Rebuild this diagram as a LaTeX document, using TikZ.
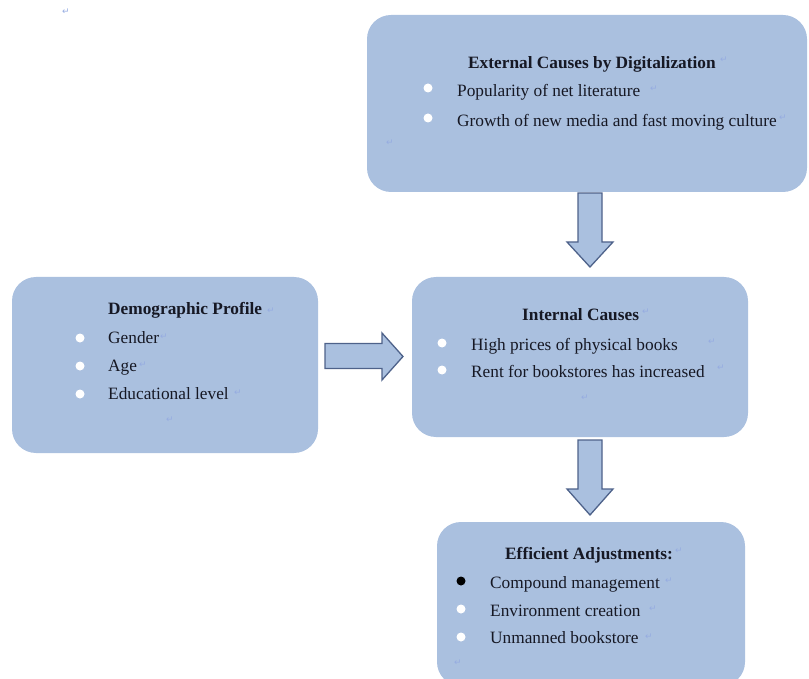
\documentclass[tikz,border=0pt]{standalone}
\usepackage{fontspec}
\setmainfont{Liberation Serif}
\newfontfamily\markfont{DejaVu Sans}
\definecolor{boxfill}{RGB}{170,192,223}
\definecolor{arrowline}{RGB}{78,98,138}
\definecolor{txt}{RGB}{22,24,36}
\definecolor{markblue}{RGB}{150,172,225}
\tikzset{
  panel/.style={fill=boxfill, draw=none, rounded corners=24pt},
  blockarrow/.style={fill=boxfill, draw=arrowline, line width=1.3pt, line join=miter},
  head/.style={anchor=base west, inner sep=0pt, font=\fontsize{17.3}{20}\selectfont\bfseries, text=txt},
  item/.style={anchor=base west, inner sep=0pt, font=\fontsize{17.3}{20}\selectfont, text=txt},
  dot/.style={circle, fill=white, inner sep=0pt, minimum size=9pt},
  pmark/.style={inner sep=0pt, font=\markfont\fontsize{9}{10}\selectfont, text=markblue}
}
\begin{document}
\begin{tikzpicture}[x=1pt,y=-1pt]
\useasboundingbox (0,0) rectangle (809,679);
% boxes
\node[panel, minimum width=440pt, minimum height=177pt] (ext) at (587,103.5) {};
\node[panel, minimum width=306pt, minimum height=176pt] (demo) at (165,365) {};
\node[panel, minimum width=336pt, minimum height=160pt] (int) at (580,357) {};
\node[panel, minimum width=308pt, minimum height=164pt] (eff) at (591,604) {};
% block arrows
\draw[blockarrow] (578,193) -- (602,193) -- (602,242) -- (613,242) -- (590,267) -- (567,242) -- (578,242) -- cycle;
\draw[blockarrow] (325,343.5) -- (382,343.5) -- (382,333) -- (403,356.5) -- (382,380) -- (382,368.5) -- (325,368.5) -- cycle;
\draw[blockarrow] (578,440) -- (602,440) -- (602,489) -- (613,489) -- (590,515) -- (567,489) -- (578,489) -- cycle;
% external
\node[head] (eh) at (468,69) {External Causes by Digitalization};
\node[dot] (eb1) at (428,88) {};
\node[item] (e1) at (457,97) {Popularity of net literature};
\node[dot] (eb2) at (428,118) {};
\node[item] (e2) at (457,127) {Growth of new media and fast moving culture};
% demographic
\node[head] (dh) at (108,315) {Demographic Profile};
\node[dot] (db1) at (80,338) {};
\node[item] (d1) at (108,343) {Gender};
\node[dot] (db2) at (80,366) {};
\node[item] (d2) at (108,371) {Age};
\node[dot] (db3) at (80,394) {};
\node[item] (d3) at (108,399) {Educational level};
% internal
\node[head] (ih) at (522,320) {Internal Causes};
\node[dot] (ib1) at (442,343) {};
\node[item] (i1) at (471,350) {High prices of physical books};
\node[dot] (ib2) at (442,370) {};
\node[item] (i2) at (471,377) {Rent for bookstores has increased};
% efficient
\node[head] (fh) at (505,559) {Efficient Adjustments:};
\node[dot, fill=black] (fb1) at (461,581) {};
\node[item] (f1) at (490,588) {Compound management};
\node[dot] (fb2) at (461,609) {};
\node[item] (f2) at (490,616) {Environment creation};
\node[dot] (fb3) at (461,637) {};
\node[item] (f3) at (490,643) {Unmanned bookstore};
% paragraph marks
\node[pmark] (m0) at (66,12) {↵};
\node[pmark] (m1) at (724,60) {↵};
\node[pmark] (m2) at (654,89) {↵};
\node[pmark] (m3) at (783,118) {↵};
\node[pmark] (m4) at (390,143) {↵};
\node[pmark] (m5) at (271,311) {↵};
\node[pmark] (m6) at (164,337) {↵};
\node[pmark] (m7) at (143,365) {↵};
\node[pmark] (m8) at (238,393) {↵};
\node[pmark] (m9) at (170,420) {↵};
\node[pmark] (m10) at (646,312) {↵};
\node[pmark] (m11) at (712,342) {↵};
\node[pmark] (m12) at (721,368) {↵};
\node[pmark] (m13) at (585,398) {↵};
\node[pmark] (m14) at (679,551) {↵};
\node[pmark] (m15) at (669,581) {↵};
\node[pmark] (m16) at (653,609) {↵};
\node[pmark] (m17) at (649,637) {↵};
\node[pmark] (m18) at (458,663) {↵};
\end{tikzpicture}
\end{document}
